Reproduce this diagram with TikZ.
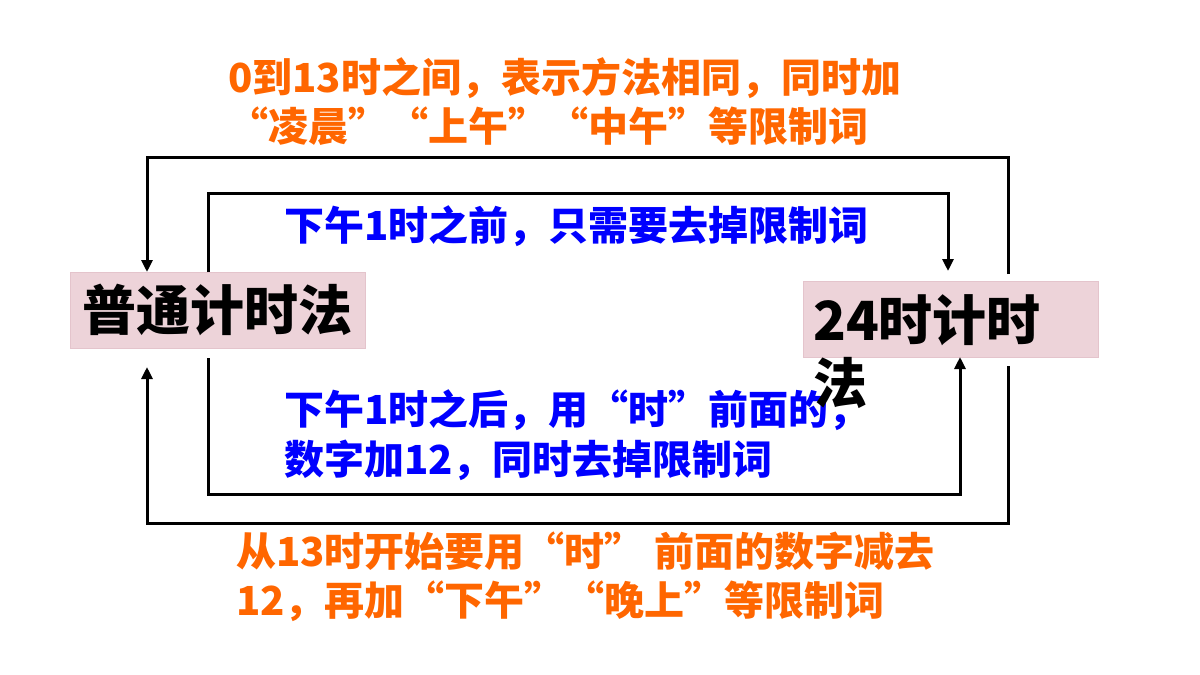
\documentclass[tikz,border=0pt]{standalone}
\usepackage{fontspec}
\newfontfamily\cjk{Noto Sans CJK SC}
\usetikzlibrary{arrows.meta}
\definecolor{orangetxt}{HTML}{FF6600}
\definecolor{bluetxt}{HTML}{0000FF}
\definecolor{boxfill}{HTML}{EDD3D9}
\definecolor{boxline}{HTML}{E4C4CC}
\tikzset{
  conn/.style={line width=3pt, draw=black, line join=miter},
  arr/.style={conn, -{Triangle[length=12pt,width=11pt]}},
  pinkbox/.style={rectangle, fill=boxfill, draw=boxline, line width=0.6pt, inner sep=0pt},
  orangelbl/.style={font=\cjk\bfseries\fontsize{40pt}{49pt}\selectfont, text=orangetxt, align=left, inner sep=0pt, anchor=west},
  bluelbl/.style={font=\cjk\bfseries\fontsize{40pt}{50pt}\selectfont, text=bluetxt, align=left, inner sep=0pt, anchor=west},
  bigtxt/.style={font=\cjk\bfseries\fontsize{54pt}{63pt}\selectfont, text=black, align=left, inner sep=0pt},
}
\begin{document}
\begin{tikzpicture}[x=1pt,y=-1pt]
\useasboundingbox (0,0) rectangle (1200,675);
\fill[white] (0,0) rectangle (1200,675);

% boxes
\node[pinkbox, bigtxt, minimum width=295pt, minimum height=76pt] (lbox) at (217.5,310) {普通计时法};
\node[pinkbox, minimum width=295pt, minimum height=76pt] (rbox) at (950.5,319) {};

% connector end points
\coordinate (otS) at (1008,274);
\coordinate (otA) at (1008,157);
\coordinate (otB) at (147,157);
\coordinate (otE) at (147,272);
\coordinate (itS) at (208,272);
\coordinate (itA) at (208,193);
\coordinate (itB) at (948,193);
\coordinate (itE) at (948,271);
\coordinate (ibS) at (208,358);
\coordinate (ibA) at (208,494);
\coordinate (ibB) at (960,494);
\coordinate (ibE) at (960,357);
\coordinate (obS) at (1008,366);
\coordinate (obA) at (1008,523);
\coordinate (obB) at (147,523);
\coordinate (obE) at (147,367);

% connectors
\draw[arr] (otS) -- (otA) -- (otB) -- (otE);
\draw[arr] (itS) -- (itA) -- (itB) -- (itE);
\draw[arr] (ibS) -- (ibA) -- (ibB) -- (ibE);
\draw[arr] (obS) -- (obA) -- (obB) -- (obE);

% labels
\node[orangelbl] (toplbl) at (228,102) {0到13时之间，表示方法相同，同时加\\“凌晨”“上午”“中午”等限制词};
\node[bluelbl] (blue1) at (284,226) {下午1时之前，只需要去掉限制词};
\node[bluelbl] (blue2) at (284,435) {下午1时之后，用“时”前面的，\\数字加12，同时去掉限制词};
\node[orangelbl] (botlbl) at (236,577) {从13时开始要用“时” 前面的数字减去\\12，再加“下午”“晚上”等限制词};

% right box text
\node[bigtxt, anchor=west] (rtxt) at (813,352) {24时计时\\法};
\end{tikzpicture}
\end{document}
